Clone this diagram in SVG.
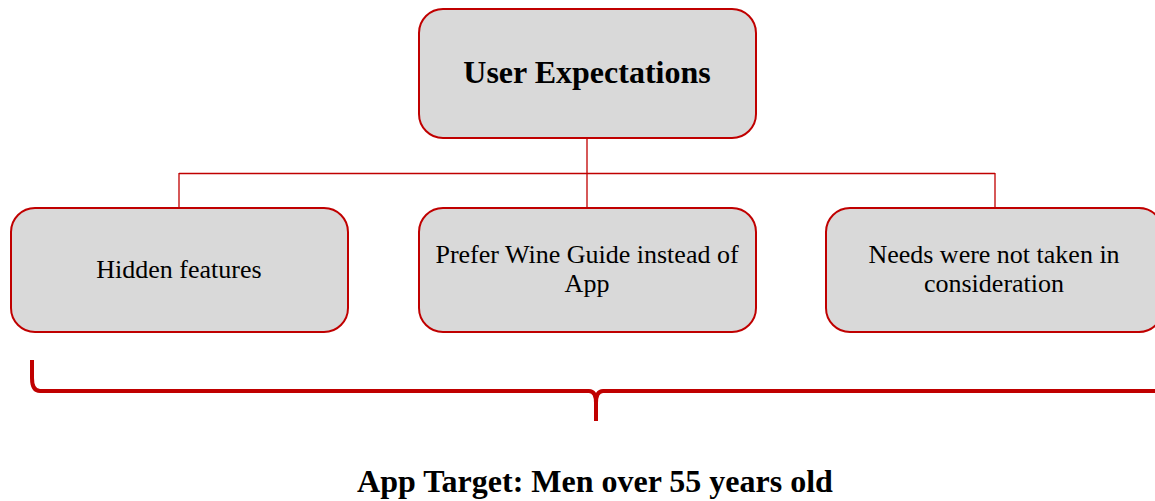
<svg xmlns="http://www.w3.org/2000/svg" width="1155" height="501" viewBox="0 0 1155 501">
<style>
.box{fill:#D9D9D9;stroke:#C00000;stroke-width:2}
.t{font-family:"Liberation Serif",serif;font-size:26px;fill:#000;text-anchor:middle}
.b{font-family:"Liberation Serif",serif;font-weight:bold;font-size:32px;fill:#000;text-anchor:middle}
.c{fill:none;stroke:#C00000;stroke-width:1.3}
</style>
<g id="connectors">
<path class="c" d="M587 138 V208 M179 173.5 H995 M179 173 V208 M995 173 V208"/>
</g>
<g id="root">
<rect class="box" x="419" y="9" width="337" height="129" rx="24"/>
<text class="b" x="587" y="83">User Expectations</text>
</g>
<g id="n1">
<rect class="box" x="11" y="208" width="337" height="124" rx="24"/>
<text class="t" x="179" y="278">Hidden features</text>
</g>
<g id="n2">
<rect class="box" x="419" y="208" width="337" height="124" rx="24"/>
<text class="t" x="587" y="263">Prefer Wine Guide instead of</text>
<text class="t" x="587" y="292">App</text>
</g>
<g id="n3">
<rect class="box" x="826" y="208" width="337" height="124" rx="24"/>
<text class="t" x="994" y="263">Needs were not taken in</text>
<text class="t" x="994" y="292">consideration</text>
</g>
<g id="brace">
<path d="M32 360 V378 Q32 391 40 391 H589 Q596 391 596 403 V421 M596 403 Q596 391 603 391 H1160" fill="none" stroke="#C00000" stroke-width="4"/>
</g>
<text class="b" x="595" y="492">App Target: Men over 55 years old</text>
</svg>
